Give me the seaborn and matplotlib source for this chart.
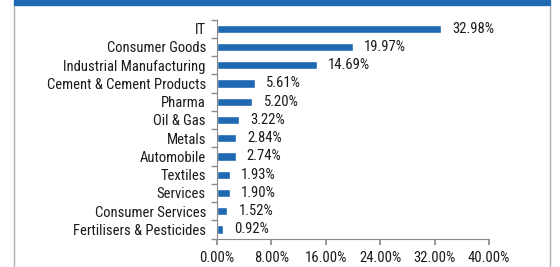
import matplotlib
matplotlib.use("Agg")
import matplotlib.pyplot as plt
import seaborn as sns
import pandas as pd
from matplotlib.patches import Rectangle
from matplotlib.lines import Line2D
from matplotlib.ticker import FixedLocator, PercentFormatter

categories = ["IT", "Consumer Goods", "Industrial Manufacturing", "Cement & Cement Products",
              "Pharma", "Oil & Gas", "Metals", "Automobile", "Textiles", "Services",
              "Consumer Services", "Fertilisers & Pesticides"]
values = [32.98, 19.97, 14.69, 5.61, 5.20, 3.22, 2.84, 2.74, 1.93, 1.90, 1.52, 0.92]
xticks = [0, 8, 16, 24, 32, 40]

sns.set_theme(style="white")
plt.rcParams['font.family'] = ['Roboto Condensed', 'DejaVu Sans']
FS = 10.5

df = pd.DataFrame({"sector": categories, "weight": values})
fig = plt.figure(figsize=(5.6, 2.67), dpi=100)
ax = fig.add_axes([217/560, 1-238.6/267, (489-217)/560, (238.6-19.6)/267])
bar_color = "#1F68B2"
sns.barplot(data=df, x="weight", y="sector", color=bar_color, width=0.45, ax=ax,
            saturation=1, orient="h")
ax.set_xlim(0, 40)
ax.set_ylim(len(categories) - 0.5, -0.5)
ax.set_xlabel("")
ax.set_ylabel("")
ax.xaxis.set_major_locator(FixedLocator(xticks))
ax.xaxis.set_major_formatter(PercentFormatter(decimals=2))
for s in ["top", "right"]:
    ax.spines[s].set_visible(False)
for s in ["left", "bottom"]:
    ax.spines[s].set_color("#8a8a8a")
    ax.spines[s].set_linewidth(0.8)
ax.tick_params(axis="x", length=4, color="#8a8a8a", labelsize=FS, pad=5, bottom=True)
ax.tick_params(axis="y", which="major", length=0, labelsize=FS, pad=8)
ax.yaxis.set_minor_locator(FixedLocator([i - 0.5 for i in range(len(categories) + 1)]))
ax.tick_params(axis="y", which="minor", length=4, color="#8a8a8a", left=True)
for lbl in ax.get_xticklabels() + ax.get_yticklabels():
    lbl.set_color("#1a1a1a")

for i, v in enumerate(values):
    ax.annotate(f"{v:.2f}%", xy=(v, i), xytext=(8, 0), textcoords="offset points",
                va="center", ha="left", fontsize=FS, color="#1a1a1a")

fig.add_artist(Rectangle((14/560, 1-5/267), (550-14)/560, 5/267, transform=fig.transFigure,
                         color="#1F68B2", zorder=5))
for x in [14/560, 550/560]:
    fig.add_artist(Line2D([x, x], [0, 1-5/267], transform=fig.transFigure,
                          color="#b0b0b0", lw=1))

fig.savefig("out.png", dpi=100)
